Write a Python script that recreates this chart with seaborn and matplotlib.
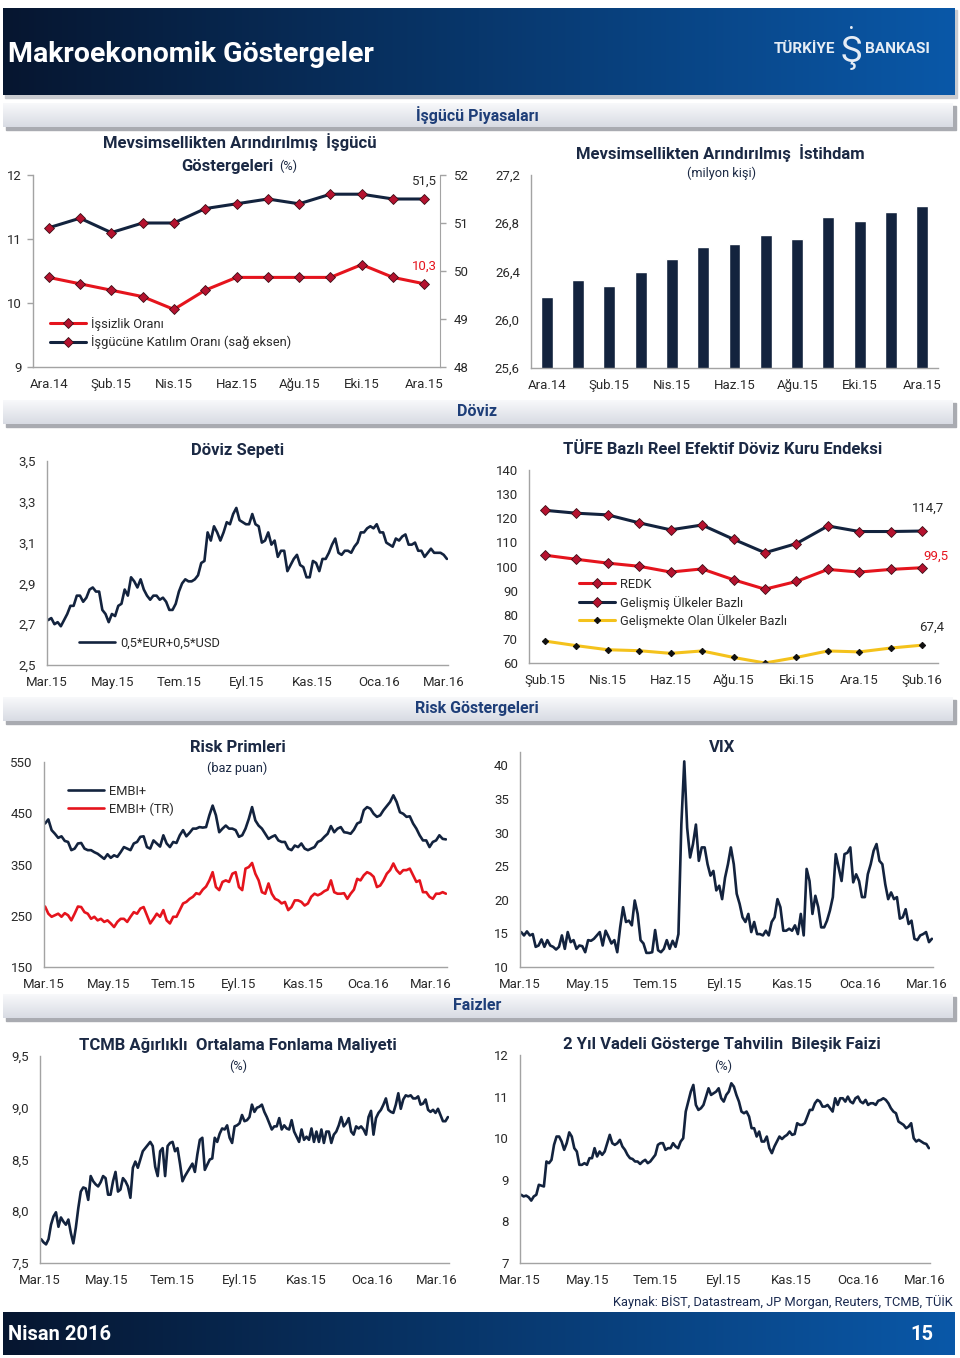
import numpy as np
import pandas as pd
import matplotlib
matplotlib.use("Agg")
import matplotlib.pyplot as plt
import matplotlib.dates as mdates
from matplotlib.patches import Rectangle
import seaborn as sns

# ---------------- data ----------------
months_labour = ['Ara.14', 'Oca.15', 'Şub.15', 'Mar.15', 'Nis.15', 'May.15', 'Haz.15',
                 'Tem.15', 'Ağu.15', 'Eyl.15', 'Eki.15', 'Kas.15', 'Ara.15']
unemployment_rate = [10.4, 10.3, 10.2, 10.1, 9.9, 10.2, 10.4, 10.4, 10.4, 10.4, 10.6, 10.4, 10.3]
participation_rate = [50.9, 51.1, 50.8, 51.0, 51.0, 51.3, 51.4, 51.5, 51.4, 51.6, 51.6, 51.5, 51.5]
employment_mn = [26.19, 26.33, 26.28, 26.40, 26.50, 26.60, 26.63, 26.70, 26.67, 26.85, 26.82, 26.89, 26.94]

months_reer = ['Şub.15', 'Mar.15', 'Nis.15', 'May.15', 'Haz.15', 'Tem.15', 'Ağu.15',
               'Eyl.15', 'Eki.15', 'Kas.15', 'Ara.15', 'Oca.16', 'Şub.16']
reer_total = [104.7, 103.0, 101.4, 100.1, 97.7, 99.0, 94.5, 90.6, 93.8, 98.8, 97.7, 98.8, 99.5]
reer_developed = [123.3, 122.1, 121.4, 118.1, 115.2, 117.2, 111.3, 105.7, 109.5, 116.8, 114.5, 114.5, 114.7]
reer_emerging = [69.1, 67.2, 65.5, 65.1, 64.0, 65.0, 62.3, 60.0, 62.3, 65.0, 64.6, 66.2, 67.4]

currency_basket = [2.72, 2.73, 2.70, 2.71, 2.69, 2.72, 2.75, 2.79, 2.79, 2.84, 2.84, 2.81, 2.83, 2.87,
                   2.88, 2.86, 2.86, 2.77, 2.75, 2.71, 2.75, 2.74, 2.79, 2.80, 2.87, 2.84, 2.93, 2.91,
                   2.88, 2.92, 2.87, 2.84, 2.82, 2.84, 2.84, 2.82, 2.83, 2.81, 2.77, 2.77, 2.80, 2.86,
                   2.90, 2.92, 2.91, 2.91, 2.92, 2.94, 3.00, 3.01, 3.15, 3.11, 3.18, 3.15, 3.11, 3.15,
                   3.20, 3.19, 3.24, 3.27, 3.21, 3.20, 3.19, 3.19, 3.24, 3.19, 3.18, 3.10, 3.11, 3.15,
                   3.09, 3.11, 3.03, 3.06, 3.06, 2.96, 2.99, 3.02, 3.04, 2.99, 2.98, 2.93, 2.93, 3.01,
                   3.00, 2.96, 3.02, 3.02, 3.05, 3.09, 3.12, 3.05, 3.04, 3.06, 3.06, 3.05, 3.08, 3.10,
                   3.15, 3.15, 3.17, 3.18, 3.17, 3.19, 3.15, 3.15, 3.10, 3.09, 3.08, 3.12, 3.11, 3.13,
                   3.14, 3.09, 3.09, 3.10, 3.06, 3.06, 3.03, 3.05, 3.07, 3.05, 3.05, 3.05, 3.04, 3.02]

embi_plus = [430, 438, 417, 410, 402, 405, 396, 394, 378, 381, 391, 392, 381, 378, 378, 374, 371, 366,
             361, 370, 363, 368, 365, 374, 384, 381, 378, 391, 394, 404, 405, 384, 381, 397, 391, 385,
             407, 391, 384, 394, 392, 407, 417, 405, 412, 420, 420, 423, 422, 423, 446, 465, 446, 413,
             420, 426, 420, 420, 417, 404, 407, 420, 439, 462, 436, 426, 420, 410, 400, 404, 407, 397,
             394, 394, 381, 378, 387, 384, 391, 381, 378, 381, 384, 394, 397, 404, 410, 425, 413, 420,
             423, 413, 412, 410, 418, 430, 433, 456, 462, 459, 449, 443, 446, 456, 464, 472, 485, 472,
             452, 449, 443, 444, 430, 420, 407, 397, 397, 384, 394, 397, 407, 400, 399]
embi_plus_tr = [268, 254, 248, 251, 254, 248, 255, 251, 241, 254, 268, 267, 257, 254, 244, 248, 241, 244,
                238, 241, 235, 228, 238, 244, 244, 238, 248, 257, 254, 264, 267, 251, 235, 244, 254, 248,
                261, 241, 235, 248, 248, 261, 274, 277, 283, 287, 294, 292, 301, 307, 319, 335, 306, 300,
                316, 319, 316, 332, 335, 306, 300, 342, 345, 353, 332, 319, 296, 293, 313, 293, 283, 280,
                274, 277, 261, 267, 280, 280, 277, 270, 274, 287, 293, 290, 293, 298, 301, 319, 296, 293,
                293, 294, 283, 293, 301, 322, 319, 329, 335, 332, 326, 306, 309, 319, 332, 339, 352, 339,
                332, 339, 339, 342, 329, 316, 319, 296, 296, 287, 283, 293, 293, 296, 293]

vix_index = [15.2, 14.7, 15.3, 14.7, 14.9, 13.0, 13.2, 14.1, 13.0, 14.0, 13.2, 13.0, 12.6, 13.0, 14.7,
             12.7, 15.2, 13.7, 14.0, 12.7, 13.2, 13.1, 12.2, 14.0, 13.9, 14.2, 14.7, 15.2, 13.2, 15.4,
             14.5, 13.5, 14.0, 12.2, 15.9, 18.9, 16.7, 16.9, 16.2, 19.9, 17.9, 14.0, 13.5, 12.1, 12.1,
             12.2, 15.5, 12.5, 12.2, 12.7, 14.0, 12.7, 13.9, 13.0, 14.9, 31.2, 40.6, 30.7, 26.3, 28.3,
             31.2, 25.8, 27.8, 27.8, 25.3, 23.6, 24.3, 21.4, 22.1, 20.1, 23.3, 25.3, 27.8, 25.3, 20.9,
             19.4, 17.4, 16.7, 17.9, 15.2, 16.7, 14.9, 14.9, 14.7, 15.4, 14.7, 16.7, 17.4, 20.1, 18.9,
             15.4, 15.4, 15.7, 15.4, 16.2, 14.9, 17.9, 14.7, 24.6, 22.8, 17.9, 20.6, 18.9, 15.9, 15.9,
             16.9, 18.4, 20.4, 26.8, 24.8, 22.8, 26.8, 27.0, 27.8, 22.6, 23.8, 22.8, 20.4, 20.4, 23.8,
             25.3, 27.3, 28.3, 25.8, 25.3, 22.3, 20.1, 21.1, 20.1, 20.4, 17.2, 17.4, 18.6, 16.4, 16.9,
             14.2, 14.0, 14.7, 14.9, 15.2, 13.7, 14.2]

tcmb_funding = [7.73, 7.70, 7.68, 7.73, 7.87, 7.95, 7.99, 7.85, 7.94, 7.90, 7.87, 7.92, 7.79, 7.69, 7.84,
                8.03, 8.19, 8.23, 8.22, 8.11, 8.34, 8.29, 8.26, 8.24, 8.28, 8.34, 8.32, 8.16, 8.16, 8.29,
                8.38, 8.19, 8.21, 8.32, 8.29, 8.24, 8.13, 8.42, 8.48, 8.42, 8.50, 8.58, 8.61, 8.64, 8.67,
                8.63, 8.43, 8.34, 8.58, 8.61, 8.34, 8.63, 8.66, 8.67, 8.58, 8.61, 8.46, 8.29, 8.34, 8.38,
                8.42, 8.46, 8.38, 8.55, 8.69, 8.71, 8.40, 8.45, 8.50, 8.51, 8.71, 8.67, 8.75, 8.80, 8.79,
                8.83, 8.71, 8.66, 8.82, 8.83, 8.85, 8.93, 8.87, 8.88, 8.91, 9.03, 8.96, 9.00, 9.01, 9.03,
                8.96, 8.91, 8.85, 8.79, 8.82, 8.82, 8.90, 8.79, 8.83, 8.80, 8.79, 8.88, 8.77, 8.72, 8.67,
                8.79, 8.69, 8.72, 8.69, 8.80, 8.67, 8.77, 8.67, 8.79, 8.66, 8.77, 8.77, 8.66, 8.74, 8.77,
                8.83, 8.91, 8.82, 8.85, 8.90, 8.77, 8.74, 8.82, 8.80, 8.82, 8.79, 8.74, 8.91, 8.97, 8.74,
                8.90, 8.95, 8.98, 9.03, 9.09, 8.98, 8.96, 8.95, 9.03, 9.14, 8.99, 9.08, 9.12, 9.11, 9.12,
                9.09, 9.09, 9.11, 9.03, 9.04, 9.08, 8.98, 8.96, 8.98, 8.95, 8.99, 8.93, 8.87, 8.87, 8.91]

bond_2y = [8.64, 8.60, 8.62, 8.58, 8.50, 8.60, 8.64, 8.88, 8.86, 8.84, 9.44, 9.40, 9.48, 9.84, 10.04,
           10.04, 9.92, 9.72, 9.88, 10.14, 10.04, 9.76, 9.68, 9.36, 9.36, 9.40, 9.36, 9.52, 9.52, 9.76,
           9.56, 9.68, 9.60, 9.68, 9.88, 10.08, 9.88, 9.84, 9.88, 9.96, 9.80, 9.72, 9.60, 9.52, 9.50,
           9.44, 9.44, 9.38, 9.44, 9.48, 9.40, 9.44, 9.52, 9.60, 9.84, 9.88, 9.88, 9.72, 9.76, 9.76,
           9.88, 9.80, 9.76, 9.92, 10.00, 10.64, 10.88, 11.12, 11.28, 10.80, 10.68, 10.72, 10.80, 11.00,
           11.20, 11.04, 11.08, 11.12, 11.20, 10.96, 10.88, 11.04, 11.12, 11.32, 11.24, 11.04, 10.88,
           10.64, 10.60, 10.64, 10.52, 10.24, 10.24, 10.04, 10.16, 9.92, 9.92, 10.04, 9.76, 9.64, 9.80,
           9.92, 10.04, 9.98, 10.04, 10.08, 10.16, 10.08, 10.10, 10.36, 10.32, 10.32, 10.36, 10.52,
           10.68, 10.68, 10.84, 10.92, 10.88, 10.76, 10.76, 10.80, 10.72, 10.64, 10.96, 10.80, 10.96,
           10.96, 10.88, 11.00, 10.88, 10.84, 10.96, 11.00, 10.88, 10.84, 10.92, 10.80, 10.84, 10.84,
           10.80, 10.90, 10.92, 10.96, 10.92, 10.84, 10.72, 10.64, 10.60, 10.40, 10.36, 10.32, 10.24,
           10.28, 10.36, 10.00, 9.92, 9.96, 9.92, 9.88, 9.86, 9.76]

date_ticks = ['2015-03-01', '2015-05-01', '2015-07-01', '2015-09-01', '2015-11-01', '2016-01-01', '2016-03-01']
date_tick_labels = ['Mar.15', 'May.15', 'Tem.15', 'Eyl.15', 'Kas.15', 'Oca.16', 'Mar.16']

# ---------------- style ----------------
sns.set_style('white')
plt.rcParams['font.family'] = ['Roboto', 'DejaVu Sans']

NAVY = '#13233e'
RED = '#e5141d'
YELLOW = '#f4c21c'
MK_FACE = '#b5122f'
MK_EDGE = '#3b0d16'
SPINE = '#a3a3a3'
TXT = '#2a2a2a'
TITLE = '#1b2944'
SECTION = '#1e3e78'
LOGO = '#e6edf5'
TICK_FS = 9.5
LEG_FS = 9.3
TITLE_FS = 12
SUB_FS = 9.2

W, H = 960, 1358
fig = plt.figure(figsize=(W / 100, H / 100), dpi=100)
bg = fig.add_axes([0, 0, 1, 1], zorder=0)
bg.set_autoscale_on(False)
bg.set_xlim(0, W)
bg.set_ylim(H, 0)
bg.axis('off')


def to_rgb(c):
    return np.array(matplotlib.colors.to_rgb(c))


def grad(x0, y0, x1, y1, c0, c1, vertical=False, z=1):
    t = np.linspace(0, 1, 256)
    cols = to_rgb(c0)[None, :] * (1 - t[:, None]) + to_rgb(c1)[None, :] * t[:, None]
    arr = cols[:, None, :] if vertical else cols[None, :, :]
    bg.imshow(arr, extent=(x0, x1, y1, y0), aspect='auto', zorder=z, interpolation='bilinear')


# header banner
bg.add_patch(Rectangle((5, 10), 952, 88, color='#c9cbd0', zorder=0.5))
grad(3, 8, 955, 95, '#061630', '#0a58a8')
bg.text(8, 55, 'Makroekonomik Göstergeler', color='white', fontsize=20.5, fontweight='bold', va='center', ha='left', zorder=3)
bg.text(805, 49, 'TÜRKİYE', color=LOGO, fontsize=11, fontweight='bold', va='center', ha='center', zorder=3)
bg.text(897, 49, 'BANKASI', color=LOGO, fontsize=11, fontweight='bold', va='center', ha='center', zorder=3)
bg.text(851, 52, 'Ş', color=LOGO, fontsize=26, va='center', ha='center', zorder=3)
bg.text(851, 29, '•', color=LOGO, fontsize=10, va='center', ha='center', zorder=3)

# section bars
for y0, lab in [(103, 'İşgücü Piyasaları'), (400, 'Döviz'), (697, 'Risk Göstergeleri'), (994, 'Faizler')]:
    bg.add_patch(Rectangle((6, y0 + 3), 950, 24, color='#a9abb1', zorder=0.5))
    grad(3, y0, 953, y0 + 24, '#f8f9fb', '#d8dbe3', vertical=True)
    bg.text(477, y0 + 12, lab, color=SECTION, fontsize=11.5, fontweight='bold', ha='center', va='center', zorder=3)

# footer
bg.text(953, 1302, 'Kaynak: BİST, Datastream, JP Morgan, Reuters, TCMB, TÜİK', ha='right', va='center',
        fontsize=9.3, color='#1a2a50', zorder=3)
grad(3, 1312, 955, 1355, '#061630', '#0a58a8')
bg.text(8, 1335, 'Nisan 2016', color='white', fontsize=14.5, fontweight='bold', va='center', ha='left', zorder=3)
bg.text(933, 1335, '15', color='white', fontsize=14.5, fontweight='bold', va='center', ha='right', zorder=3)


def title(x, y, s, size=TITLE_FS, weight='bold', ha='center'):
    bg.text(x, y, s, ha=ha, va='center', fontsize=size, fontweight=weight, color=TITLE, zorder=3)


def add_ax(x0, y0, x1, y1):
    ax = fig.add_axes([x0 / W, 1 - y1 / H, (x1 - x0) / W, (y1 - y0) / H], zorder=2)
    ax.set_facecolor('none')
    return ax


def fmt(v, d):
    return f'{v:.{d}f}'.replace('.', ',')


def style(ax, yticks, dec, ylim):
    ax.set_ylim(*ylim)
    ax.set_yticks(yticks)
    ax.set_yticklabels([fmt(v, dec) for v in yticks])
    sns.despine(ax=ax)
    for s in ('left', 'bottom'):
        ax.spines[s].set_color(SPINE)
        ax.spines[s].set_linewidth(1.0)
    ax.tick_params(axis='both', which='both', direction='out', color=SPINE, labelcolor=TXT,
                   labelsize=TICK_FS, length=4, width=1, pad=4)
    ax.set_xlabel('')
    ax.set_ylabel('')


def cat_x(ax, labels):
    ax.set_xlim(-0.5, 12.5)
    ax.set_xticks(range(0, 13, 2))
    ax.set_xticklabels(labels[::2])
    ax.set_xticks(np.arange(-0.5, 12, 2), minor=True)
    ax.tick_params(axis='x', which='major', length=0, pad=8)
    ax.tick_params(axis='x', which='minor', length=4)


def date_x(ax, right):
    ax.set_xlim(mdates.date2num(pd.Timestamp('2015-03-01')), mdates.date2num(pd.Timestamp(right)))
    ax.set_xticks([mdates.date2num(pd.Timestamp(d)) for d in date_ticks])
    ax.set_xticklabels(date_tick_labels)
    ax.tick_params(axis='x', pad=4)


def legend(ax, handles, labels, x, y):
    ax.legend(handles, labels, loc='upper left', bbox_to_anchor=(x, y), bbox_transform=bg.transData,
              frameon=False, fontsize=LEG_FS, handlelength=2.8, handletextpad=0.4, labelspacing=0.35,
              borderpad=0, borderaxespad=0, numpoints=1, labelcolor=TXT)


mk = dict(marker='D', markersize=5, markerfacecolor=MK_FACE, markeredgecolor=MK_EDGE, markeredgewidth=0.6)

# ---------- Panel 1: labour indicators ----------
ax1 = add_ax(33, 175, 440, 367)
df1 = pd.DataFrame({'idx': range(len(months_labour)), 'u': unemployment_rate, 'p': participation_rate})
sns.lineplot(data=df1, x='idx', y='u', ax=ax1, color=RED, linewidth=2.2, legend=False, **mk)
style(ax1, [9, 10, 11, 12], 0, (9, 12))
cat_x(ax1, months_labour)
ax1b = ax1.twinx()
sns.lineplot(data=df1, x='idx', y='p', ax=ax1b, color=NAVY, linewidth=2.2, legend=False, **mk)
ax1b.set_ylim(48, 52)
ax1b.set_yticks([48, 49, 50, 51, 52])
ax1b.set_yticklabels(['48', '49', '50', '51', '52'])
for s in ('left', 'top', 'bottom'):
    ax1b.spines[s].set_visible(False)
ax1b.spines['right'].set_color(SPINE)
ax1b.tick_params(axis='y', direction='out', color=SPINE, labelcolor=TXT, labelsize=TICK_FS, length=4, width=1, pad=6)
ax1b.set_ylabel('')
ax1.annotate(fmt(unemployment_rate[-1], 1), xy=(12, unemployment_rate[-1]), xytext=(0, 12.5),
             textcoords='offset points', ha='center', va='center', color=RED, fontsize=9.5)
ax1b.annotate(fmt(participation_rate[-1], 1), xy=(12, participation_rate[-1]), xytext=(0, 12.5),
              textcoords='offset points', ha='center', va='center', color=TXT, fontsize=9.5)
legend(ax1b, [ax1.lines[0], ax1b.lines[0]], ['İşsizlik Oranı', 'İşgücüne Katılım Oranı (sağ eksen)'], 50, 317)
title(240, 142, 'Mevsimsellikten Arındırılmış  İşgücü')
title(274, 166, 'Göstergeleri', ha='right')
title(279, 166, '(%)', size=SUB_FS, weight='normal', ha='left')

# ---------- Panel 2: employment ----------
ax2 = add_ax(531, 175, 938, 368)
sns.barplot(x=months_labour, y=employment_mn, order=months_labour, ax=ax2, color=NAVY, saturation=1, width=0.38)
style(ax2, [25.6, 26.0, 26.4, 26.8, 27.2], 1, (25.6, 27.2))
cat_x(ax2, months_labour)
title(720, 153, 'Mevsimsellikten Arındırılmış  İstihdam')
title(722, 173, '(milyon kişi)', size=SUB_FS, weight='normal')

# ---------- Panel 3: currency basket ----------
ax3 = add_ax(47, 461, 448, 665)
df3 = pd.DataFrame({'date': pd.date_range('2015-03-02', '2016-03-04', periods=len(currency_basket)),
                    'v': currency_basket})
sns.lineplot(data=df3, x='date', y='v', ax=ax3, color=NAVY, linewidth=1.9, legend=False)
style(ax3, [2.5, 2.7, 2.9, 3.1, 3.3, 3.5], 1, (2.5, 3.5))
date_x(ax3, '2016-03-05')
legend(ax3, [ax3.lines[0]], ['0,5*EUR+0,5*USD'], 79, 637)
title(238, 450, 'Döviz Sepeti')

# ---------- Panel 4: REER ----------
ax4 = add_ax(529, 470, 938, 663)
df4 = pd.DataFrame({'idx': range(len(months_reer)), 'tot': reer_total, 'dev': reer_developed, 'em': reer_emerging})
sns.lineplot(data=df4, x='idx', y='tot', ax=ax4, color=RED, linewidth=2.2, legend=False, **mk)
sns.lineplot(data=df4, x='idx', y='dev', ax=ax4, color=NAVY, linewidth=2.2, legend=False, **mk)
sns.lineplot(data=df4, x='idx', y='em', ax=ax4, color=YELLOW, linewidth=2.2, legend=False,
             marker='D', markersize=3.2, markerfacecolor='#111111', markeredgecolor='#111111')
style(ax4, list(range(60, 141, 10)), 0, (60, 140))
cat_x(ax4, months_reer)
ax4.annotate(fmt(reer_developed[-1], 1), xy=(12, reer_developed[-1]), xytext=(4.5, 16.5),
             textcoords='offset points', ha='center', va='center', color=TXT, fontsize=9.5)
ax4.annotate(fmt(reer_total[-1], 1), xy=(12, reer_total[-1]), xytext=(10, 8),
             textcoords='offset points', ha='center', va='center', color=RED, fontsize=9.5)
ax4.annotate(fmt(reer_emerging[-1], 1), xy=(12, reer_emerging[-1]), xytext=(7, 13),
             textcoords='offset points', ha='center', va='center', color=TXT, fontsize=9.5)
legend(ax4, [ax4.lines[0], ax4.lines[1], ax4.lines[2]],
       ['REDK', 'Gelişmiş Ülkeler Bazlı', 'Gelişmekte Olan Ülkeler Bazlı'], 579, 578)
title(723, 450, 'TÜFE Bazlı Reel Efektif Döviz Kuru Endeksi')

# ---------- Panel 5: risk premia ----------
ax5 = add_ax(44, 762, 447, 967)
df5 = pd.DataFrame({'date': pd.date_range('2015-03-02', '2016-03-15', periods=len(embi_plus)),
                    'embi': embi_plus, 'tr': embi_plus_tr})
sns.lineplot(data=df5, x='date', y='embi', ax=ax5, color=NAVY, linewidth=1.9, legend=False)
sns.lineplot(data=df5, x='date', y='tr', ax=ax5, color=RED, linewidth=1.9, legend=False)
style(ax5, [150, 250, 350, 450, 550], 0, (150, 550))
date_x(ax5, '2016-03-16')
legend(ax5, [ax5.lines[0], ax5.lines[1]], ['EMBI+', 'EMBI+ (TR)'], 68, 785)
title(238, 748, 'Risk Primleri')
title(237, 768, '(baz puan)', size=SUB_FS, weight='normal')

# ---------- Panel 6: VIX ----------
ax6 = add_ax(520, 752, 933, 967)
df6 = pd.DataFrame({'date': pd.date_range('2015-03-02', '2016-03-06', periods=len(vix_index)), 'v': vix_index})
sns.lineplot(data=df6, x='date', y='v', ax=ax6, color=NAVY, linewidth=1.9, legend=False)
style(ax6, [10, 15, 20, 25, 30, 35, 40], 0, (10, 42))
date_x(ax6, '2016-03-07')
title(722, 748, 'VIX')

# ---------- Panel 7: TCMB funding ----------
ax7 = add_ax(40, 1056, 449, 1263)
df7 = pd.DataFrame({'date': pd.date_range('2015-03-02', '2016-03-11', periods=len(tcmb_funding)), 'v': tcmb_funding})
sns.lineplot(data=df7, x='date', y='v', ax=ax7, color=NAVY, linewidth=1.9, legend=False)
style(ax7, [7.5, 8.0, 8.5, 9.0, 9.5], 1, (7.5, 9.5))
date_x(ax7, '2016-03-12')
title(238, 1045, 'TCMB Ağırlıklı  Ortalama Fonlama Maliyeti')
title(238, 1066, '(%)', size=SUB_FS, weight='normal')

# ---------- Panel 8: 2y bond ----------
ax8 = add_ax(520, 1055, 930, 1263)
df8 = pd.DataFrame({'date': pd.date_range('2015-03-02', '2016-03-05', periods=len(bond_2y)), 'v': bond_2y})
sns.lineplot(data=df8, x='date', y='v', ax=ax8, color=NAVY, linewidth=1.9, legend=False)
style(ax8, [7, 8, 9, 10, 11, 12], 0, (7, 12))
date_x(ax8, '2016-03-06')
title(722, 1045, '2 Yıl Vadeli Gösterge Tahvilin  Bileşik Faizi')
title(723, 1066, '(%)', size=SUB_FS, weight='normal')

bg.set_xlim(0, W)
bg.set_ylim(H, 0)
fig.savefig('out.png', dpi=100, facecolor='white')
